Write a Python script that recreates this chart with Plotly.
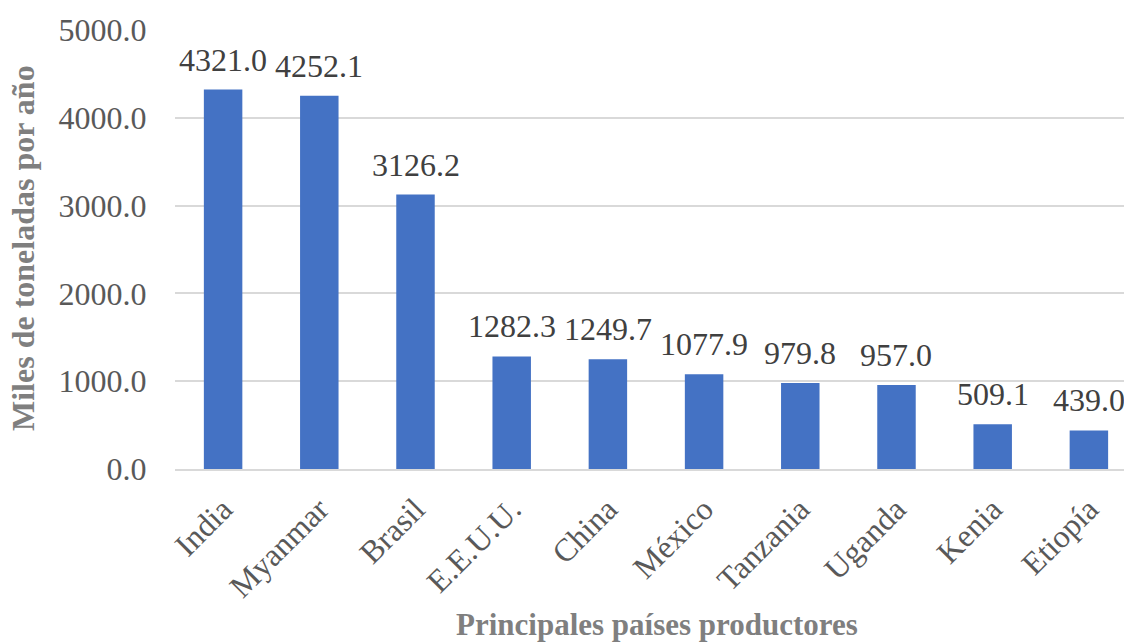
import plotly.graph_objects as go

countries = ["India", "Myanmar", "Brasil", "E.E.U.U.", "China", "México",
             "Tanzania", "Uganda", "Kenia", "Etiopía"]
values = [4321.0, 4252.1, 3126.2, 1282.3, 1249.7, 1077.9, 979.8, 957.0, 509.1, 439.0]
y_ticks = [0, 1000, 2000, 3000, 4000, 5000]
y_ticktext = [f"{v:.1f}" for v in y_ticks]

FONT = "Liberation Serif"

fig = go.Figure()
fig.add_trace(go.Bar(
    x=countries, y=values, width=0.4,
    marker=dict(color="#4472c4", line=dict(width=0)),
))

for c, v in zip(countries, values):
    fig.add_annotation(x=c, y=v, text=f"{v:.1f}", showarrow=False,
                       xref="x", yref="y", yanchor="bottom", yshift=10,
                       font=dict(family=FONT, size=32, color="#404040"))

fig.add_annotation(text="<b>Miles de toneladas por año</b>", xref="paper", yref="paper",
                   x=(23 - 175) / 949, y=(469 - 248) / 439, textangle=-90, showarrow=False,
                   xanchor="center", yanchor="middle",
                   font=dict(family=FONT, size=32, color="#7f7f7f"))
fig.add_annotation(text="<b>Principales países productores</b>", xref="paper", yref="paper",
                   x=(657 - 175) / 949, y=(469 - 644) / 439, showarrow=False,
                   xanchor="center", yanchor="bottom",
                   font=dict(family=FONT, size=31, color="#7f7f7f"))

fig.update_layout(
    width=1124, height=644,
    margin=dict(l=175, r=0, t=30, b=175),
    paper_bgcolor="white", plot_bgcolor="white",
    showlegend=False,
    font=dict(family=FONT, size=32, color="#595959"),
    xaxis=dict(range=[-0.5, 9.365], tickangle=-45, showgrid=False,
               showline=True, linecolor="#d9d9d9", linewidth=1.5,
               ticks="outside", ticklen=7, tickcolor="rgba(0,0,0,0)",
               tickfont=dict(family=FONT, size=32, color="#595959")),
    yaxis=dict(range=[0, 5000], tickvals=y_ticks, ticktext=y_ticktext,
               showgrid=True, gridcolor="#d9d9d9", gridwidth=1.5,
               zeroline=False, showline=False,
               ticks="outside", ticklen=21, tickcolor="rgba(0,0,0,0)",
               tickfont=dict(family=FONT, size=32, color="#595959")),
)

fig.write_html("out.html")
